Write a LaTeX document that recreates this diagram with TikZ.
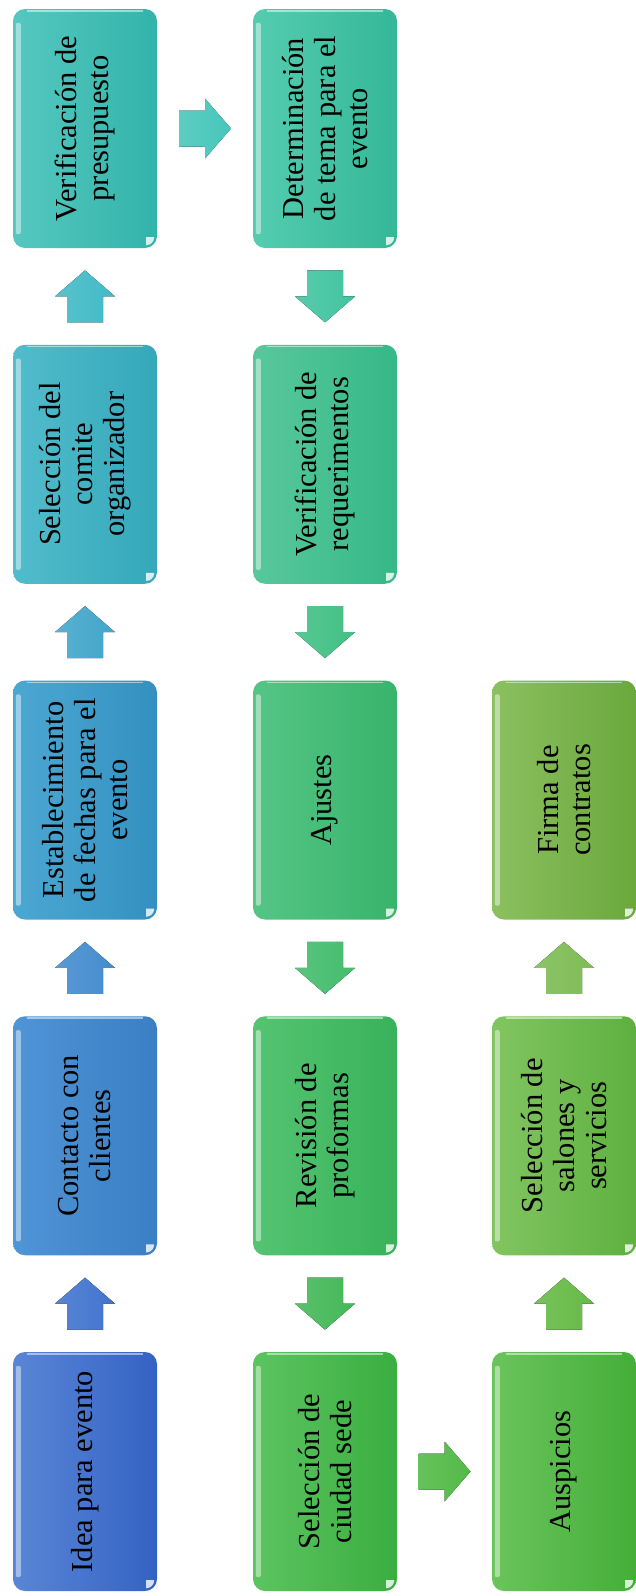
\documentclass[tikz,border=0pt]{standalone}
\usepackage{fontspec}
\usepackage{graphicx}
\setmainfont{Liberation Serif}
\usetikzlibrary{calc}
% box colours (left lighter, right darker)
\definecolor{bAL}{HTML}{5A86D6}\definecolor{bAR}{HTML}{3462C4}
\definecolor{bBL}{HTML}{5095D6}\definecolor{bBR}{HTML}{3A7EC4}
\definecolor{bCL}{HTML}{4CA8D2}\definecolor{bCR}{HTML}{3490C0}
\definecolor{bDL}{HTML}{52BCCC}\definecolor{bDR}{HTML}{34A8BA}
\definecolor{bEL}{HTML}{55C8C0}\definecolor{bER}{HTML}{32B4AA}
\definecolor{cAL}{HTML}{55CCB0}\definecolor{cAR}{HTML}{34B898}
\definecolor{cBL}{HTML}{58C89C}\definecolor{cBR}{HTML}{36B888}
\definecolor{cCL}{HTML}{55C585}\definecolor{cCR}{HTML}{38B46C}
\definecolor{cDL}{HTML}{55C472}\definecolor{cDR}{HTML}{38B25A}
\definecolor{cEL}{HTML}{5CC460}\definecolor{cER}{HTML}{3AAE40}
\definecolor{dEL}{HTML}{6AC45C}\definecolor{dER}{HTML}{44AE38}
\definecolor{dDL}{HTML}{82C560}\definecolor{dDR}{HTML}{5EB040}
\definecolor{dCL}{HTML}{8CC060}\definecolor{dCR}{HTML}{6AA83C}
% arrow colours
\definecolor{arA}{HTML}{4274CE}
\definecolor{arB}{HTML}{448CCE}
\definecolor{arC}{HTML}{42A6CA}
\definecolor{arD}{HTML}{42BAC6}
\definecolor{arE}{HTML}{46C6BA}
\definecolor{arF}{HTML}{42C4A0}
\definecolor{arG}{HTML}{42C084}
\definecolor{arH}{HTML}{44BC6C}
\definecolor{arI}{HTML}{44B858}
\definecolor{arJ}{HTML}{52BA46}
\definecolor{arK}{HTML}{66BA46}
\definecolor{arL}{HTML}{7EBC54}
\tikzset{
  stepbox/.style={rounded corners=12pt, minimum width=144pt, minimum height=239pt,
    inner sep=0pt, text=black, font=\fontsize{30.5}{32}\selectfont},
}
\newcommand\boxtext[1]{\rotatebox{90}{\parbox{205pt}{\centering #1}}}
\newcommand\gloss[1]{%
  \fill[white,opacity=.45,rounded corners=2pt] ([shift={(3pt,-14pt)}]#1.north west) rectangle ([shift={(8pt,14pt)}]#1.south west);
  \fill[white,opacity=.8] ([shift={(-11pt,11pt)}]#1.south east) -- ++(8pt,0pt) arc[start angle=0,end angle=-90,radius=8pt] -- cycle;
  \draw[white,opacity=.5,line width=1.5pt] ([shift={(14pt,-2pt)}]#1.north west) -- ([shift={(-14pt,-2pt)}]#1.north east);
}
\newcommand\blockarrow[3]{%
  \coordinate (m) at ($(#2)!0.5!(#3)$);
  \coordinate (tp) at ($(m)!26pt!(#3)$);
  \coordinate (tl) at ($(m)!-26pt!(#3)$);
  \fill[left color=#1!88!white, right color=#1]
    ($(tl)!18pt!90:(m)$) -- ($(m)!18pt!90:(tp)$) -- ($(m)!30pt!90:(tp)$) -- (tp)
    -- ($(m)!30pt!-90:(tp)$) -- ($(m)!18pt!-90:(tp)$) -- ($(tl)!18pt!-90:(m)$) -- cycle;
}
\begin{document}
\begin{tikzpicture}[x=1pt,y=-1pt]
\useasboundingbox (0,0) rectangle (636,1596);
% column 1
\node[stepbox, left color=bAL, right color=bAR] (b1) at (85,1471.5) {\boxtext{Idea para evento}};
\node[stepbox, left color=bBL, right color=bBR] (b2) at (85,1135.75) {\boxtext{Contacto con\\clientes}};
\node[stepbox, left color=bCL, right color=bCR] (b3) at (85,800) {\boxtext{Establecimiento\\de fechas para el\\evento}};
\node[stepbox, left color=bDL, right color=bDR] (b4) at (85,464.25) {\boxtext{Selección del\\comite\\organizador}};
\node[stepbox, left color=bEL, right color=bER] (b5) at (85,128.5) {\boxtext{Verificación de\\presupuesto}};
% column 2
\node[stepbox, left color=cAL, right color=cAR] (c1) at (325,128.5) {\boxtext{Determinación\\de tema para el\\evento}};
\node[stepbox, left color=cBL, right color=cBR] (c2) at (325,464.25) {\boxtext{Verificación de\\requerimentos}};
\node[stepbox, left color=cCL, right color=cCR] (c3) at (325,800) {\boxtext{Ajustes}};
\node[stepbox, left color=cDL, right color=cDR] (c4) at (325,1135.75) {\boxtext{Revisión de\\proformas}};
\node[stepbox, left color=cEL, right color=cER] (c5) at (325,1471.5) {\boxtext{Selección de\\ciudad sede}};
% column 3
\node[stepbox, left color=dEL, right color=dER] (d5) at (564,1471.5) {\boxtext{Auspicios}};
\node[stepbox, left color=dDL, right color=dDR] (d4) at (564,1135.75) {\boxtext{Selección de\\salones y\\servicios}};
\node[stepbox, left color=dCL, right color=dCR] (d3) at (564,800) {\boxtext{Firma de\\contratos}};
% gloss
\gloss{b1}\gloss{b2}\gloss{b3}\gloss{b4}\gloss{b5}
\gloss{c1}\gloss{c2}\gloss{c3}\gloss{c4}\gloss{c5}
\gloss{d5}\gloss{d4}\gloss{d3}
% arrows
\blockarrow{arA}{b1}{b2}
\blockarrow{arB}{b2}{b3}
\blockarrow{arC}{b3}{b4}
\blockarrow{arD}{b4}{b5}
\blockarrow{arE}{b5}{c1}
\blockarrow{arF}{c1}{c2}
\blockarrow{arG}{c2}{c3}
\blockarrow{arH}{c3}{c4}
\blockarrow{arI}{c4}{c5}
\blockarrow{arJ}{c5}{d5}
\blockarrow{arK}{d5}{d4}
\blockarrow{arL}{d4}{d3}
\end{tikzpicture}
\end{document}
